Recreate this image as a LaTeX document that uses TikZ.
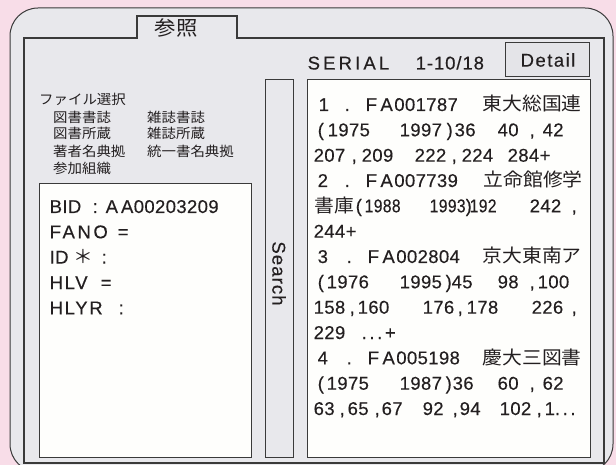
\documentclass[tikz,border=0pt]{standalone}
\usepackage{fontspec}
\setmainfont{Liberation Sans}[LetterSpace=2,FakeBold=0.3]
\newfontfamily\jp{Noto Sans CJK JP}[FakeStretch=1.07]
\definecolor{bgpink}{HTML}{F8DDE8}
\definecolor{panel}{HTML}{E8E8EC}
\definecolor{paper}{HTML}{FEFEFC}
\definecolor{btn}{HTML}{E4E4E8}
\definecolor{ink}{HTML}{231F20}
\definecolor{edge}{HTML}{3A3A3A}
\newcommand\tk[2]{\makebox[0pt][l]{\hspace*{#1pt}#2}}
\newcommand\nar[1]{\scalebox{0.85}[1]{#1}}
\newcommand\fa[1]{F\kern3.5pt A\kern1.5pt #1}
\begin{document}
\begin{tikzpicture}[x=1pt,y=-1pt,
  txt/.style={anchor=base west,inner sep=0pt,text=ink,font=\fontsize{18.5}{18.5}\selectfont},
  small/.style={anchor=west,inner sep=0pt,text=ink,font=\jp\fontsize{13.5}{13.5}\selectfont},
  box/.style={draw=edge,line width=1pt},
]
\useasboundingbox (0,0) rectangle (616,465);
\clip (0,0) rectangle (616,465);
\fill[bgpink] (0,0) rectangle (616,465);
% outer rounded panel
\draw[box,fill=panel,rounded corners=28pt] (10,8) rectangle (613,472);
% inner frame with tab
\draw[edge,line width=1.2pt] (24,463) -- (24,38) -- (137,38) -- (137,16) -- (237,16) -- (237,38) -- (604,38) -- (604,463) -- cycle;
\node[inner sep=0pt,text=ink,font=\jp\fontsize{20}{20}\selectfont] (tab) at (176,28) {参照};
% left labels
\node[small] (fs) at (39,99.5) {ファイル選択};
\node[small] (f1) at (53,117.5) {図書書誌};
\node[small] (f2) at (147,117.5) {雑誌書誌};
\node[small] (f3) at (53,133.5) {図書所蔵};
\node[small] (f4) at (147,133.5) {雑誌所蔵};
\node[small] (f5) at (53,151) {著者名典拠};
\node[small] (f6) at (147,151) {統一書名典拠};
\node[small] (f7) at (53,168.5) {参加組織};
% left box
\draw[box,fill=paper] (39,184) rectangle (251,457);
\node[txt] (b1) at (0,213) {\tk{49}{BID}\tk{92}{:}\tk{105}{A\kern3pt A00203209}};
\node[txt] (b2) at (0,238.3) {\tk{49}{\addfontfeature{LetterSpace=14}FANO}\tk{117}{=}};
\node[txt] (b3) at (0,263.6) {\tk{49}{ID}\tk{72.5}{\jp ＊}\tk{101}{:}};
\node[txt] (b4) at (0,289) {\tk{49}{\addfontfeature{LetterSpace=9}HLV}\tk{100}{=}};
\node[txt] (b5) at (0,314.3) {\tk{49}{\addfontfeature{LetterSpace=9}HLYR}\tk{118}{:}};
% search button
\draw[box,fill=panel] (265,80) rectangle (293,457);
\node[inner sep=0pt,text=ink,font=\fontsize{18.5}{18.5}\selectfont\addfontfeature{LetterSpace=6},rotate=-90] (search) at (279,273.5) {Search};
% header
\node[txt] (serial) at (0,69.5) {\tk{307}{\addfontfeature{LetterSpace=17}SERIAL}\tk{415}{\addfontfeature{LetterSpace=5}1-10/18}};
\draw[box,fill=btn] (505,43) rectangle (589,77);
\node[inner sep=0pt,text=ink,font=\fontsize{18.5}{18.5}\selectfont\addfontfeature{LetterSpace=8}] (detail) at (548,60) {Detail};
% list box
\draw[box,fill=paper] (307,80) rectangle (590.5,457);
\node[txt] (l1) at (0,111) {\tk{318}{1}\tk{344}{.}\tk{365}{\fa{001787}}\tk{482}{\jp 東大総国連}};
\node[txt] (l2) at (0,136.3) {\tk{317}{(}\tk{327}{1975}\tk{399}{1997}\tk{446}{)}\tk{454}{36}\tk{497}{40}\tk{529}{,}\tk{542}{42}};
\node[txt] (l3) at (0,161.7) {\tk{313}{207}\tk{351}{,}\tk{361}{209}\tk{414}{222}\tk{451}{,}\tk{461}{224}\tk{507}{284+}};
\node[txt] (l4) at (0,187) {\tk{317}{2}\tk{344}{.}\tk{365}{\fa{007739}}\tk{483}{\jp 立命館修学}};
\node[txt] (l5) at (0,212.3) {\tk{314}{\jp 書庫}\tk{355}{(}\tk{364}{\nar{1988}}\tk{429}{\nar{1993}}\tk{465}{)}\tk{469}{\nar{192}}\tk{529}{242}\tk{571}{,}};
\node[txt] (l6) at (0,237.7) {\tk{313}{244+}};
\node[txt] (l7) at (0,263) {\tk{317}{3}\tk{346}{.}\tk{367}{\fa{002804}}\tk{482}{\jp 京大東南ア}};
\node[txt] (l8) at (0,288.3) {\tk{317}{(}\tk{326}{1976}\tk{399}{1995}\tk{445}{)}\tk{451}{45}\tk{497}{98}\tk{529}{,}\tk{537}{100}};
\node[txt] (l9) at (0,313.7) {\tk{313}{158}\tk{349}{,}\tk{357}{160}\tk{422}{176}\tk{457}{,}\tk{466}{178}\tk{531}{226}\tk{571}{,}};
\node[txt] (l10) at (0,339) {\tk{313}{229}\tk{361}{\addfontfeature{LetterSpace=14}...+}};
\node[txt] (l11) at (0,364.3) {\tk{317}{4}\tk{346}{.}\tk{367}{\fa{005198}}\tk{482}{\jp 慶大三図書}};
\node[txt] (l12) at (0,389.7) {\tk{317}{(}\tk{326}{1975}\tk{399}{1987}\tk{445}{)}\tk{452}{36}\tk{497}{60}\tk{529}{,}\tk{542}{62}};
\node[txt] (l13) at (0,415) {\tk{313}{63}\tk{339}{,}\tk{347}{65}\tk{374}{,}\tk{381}{67}\tk{422}{92}\tk{452}{,}\tk{459}{94}\tk{499}{102}\tk{536}{,}\tk{544}{1\addfontfeature{LetterSpace=14}...}};
\end{tikzpicture}
\end{document}
